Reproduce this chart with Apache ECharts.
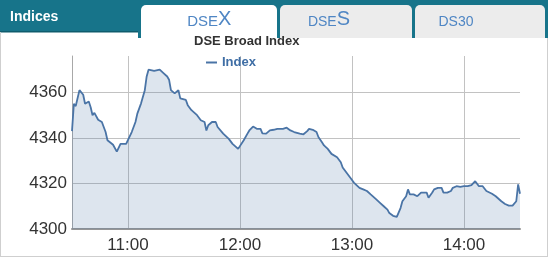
<!DOCTYPE html>
<html><head><meta charset="utf-8">
<script src="https://cdn.jsdelivr.net/npm/echarts@6/dist/echarts.min.js"></script>
<style>html,body{margin:0;padding:0;background:#fff;}#c{width:551px;height:258px;}</style>
</head><body><div id="c"></div>
<script>
// ---- data ----
const times = ["10:30","10:31","10:32","10:34","10:36","10:37","10:39","10:40","10:41","10:42","10:44","10:46","10:48","10:49","10:52","10:54","10:55","10:56","10:59",
"11:00","11:02","11:04","11:05","11:07","11:09","11:10","11:11","11:14","11:15","11:17","11:18","11:19","11:21","11:22","11:23","11:25","11:27","11:28","11:31","11:32","11:34","11:37","11:39","11:41","11:42","11:43","11:45","11:47","11:48","11:51","11:54","11:56","11:59",
"12:00","12:02","12:04","12:05","12:07","12:09","12:11","12:12","12:14","12:16","12:18","12:20","12:21","12:23","12:25","12:27","12:29","12:30","12:32","12:34","12:36","12:37","12:39","12:41","12:42","12:44","12:45","12:47","12:49","12:52","12:54","12:55","12:57","12:59",
"13:01","13:02","13:04","13:06","13:08","13:10","13:11","13:13","13:15","13:17","13:19","13:20","13:22","13:24","13:25","13:26","13:27","13:29","13:30","13:31","13:33","13:35","13:37","13:40","13:41","13:43","13:44","13:46","13:48","13:49","13:51","13:53","13:54","13:56","13:58",
"14:00","14:02","14:04","14:06","14:07","14:08","14:10","14:12","14:15","14:17","14:18","14:20","14:22","14:24","14:26","14:27","14:28","14:29","14:30"];
const values = [4343,4355,4354,4361,4359,4355,4356,4353.5,4350,4351,4348,4347,4342.6,4339,4337,4334,4334.5,4337.4,4337.4,
4336.7,4342.6,4347,4350.7,4355.2,4361,4367,4370,4369.5,4369,4370,4369.7,4368.5,4367,4365.6,4361,4359.6,4361,4357.4,4356.7,4354.4,4352.2,4350,4347.8,4347,4343.3,4345.6,4347,4347,4344.8,4341.9,4339.6,4337.4,4335.2,
4335.5,4339,4341.9,4343.3,4345,4344,4344,4342,4341.9,4343.3,4343.6,4344,4343.3,4344,4344.5,4343.3,4342.6,4341.9,4341.9,4341.6,4343,4344,4343.6,4342.6,4340.4,4338,4336.7,4335.2,4333,4331.5,4329.3,4327,4324.8,4322.6,
4320.4,4319.6,4318.1,4317.4,4316.7,4315.2,4314.4,4313,4311.5,4310,4308.5,4307,4305.8,4305.3,4305.6,4309.2,4312.2,4314.4,4317.4,4315.2,4315.2,4314.4,4316,4316,4313.7,4316,4317.4,4318.1,4318.1,4316,4316,4316.7,4318.1,4318.8,4318.5,
4318.8,4318.8,4319.3,4321,4320.3,4318.8,4318.8,4316.7,4315.5,4314.4,4313.7,4312.2,4311,4310.3,4310.3,4310.7,4312.2,4319.6,4315.5];
const xStart = "10:30", xEnd = "14:30";
const xTickLabels = ["11:00","12:00","13:00","14:00"];
const yTickLabels = [4300,4320,4340,4360];
const yMin = 4300, yMax = 4376;
const seriesName = "Index";
const chartTitle = "DSE Broad Index";
const headerLabel = "Indices";

function toMin(s){const p=s.split(':');return +p[0]*60 + +p[1];}
function fmt(v){const h=Math.floor(v/60),m=Math.round(v%60);return h+':'+(m<10?'0':'')+m;}

const TEAL='#17748a', TABTXT='#4f86c4', FONT='Arial, "Liberation Sans", sans-serif';
const chart = echarts.init(document.getElementById('c'), null, {renderer:'canvas'});
const xTicks = xTickLabels.map(toMin);

chart.setOption({
  animation:false,
  backgroundColor:'#fff',
  title:{text:chartTitle,left:194,top:35,padding:0,textStyle:{fontFamily:FONT,fontSize:13,fontWeight:'bold',color:'#333'}},
  legend:{left:206,top:56,padding:0,icon:'rect',itemWidth:11,itemHeight:2,itemGap:5,
    textStyle:{fontFamily:FONT,fontSize:13,fontWeight:'bold',color:'#3f6ea5'},data:[seriesName]},
  grid:{left:72,right:31,top:56,bottom:29,containLabel:false},
  xAxis:{type:'value',min:toMin(xStart),max:toMin(xEnd),
    axisLine:{show:true,lineStyle:{color:'#969696',width:2}},
    axisTick:{show:false,customValues:xTicks},
    axisLabel:{customValues:xTicks,formatter:fmt,margin:8,fontSize:17,fontFamily:FONT,color:'#333'},
    splitLine:{show:true,lineStyle:{color:'#c2c2c2',width:1}}},
  yAxis:{type:'value',min:yMin,max:yMax,
    axisLine:{show:true,lineStyle:{color:'#a8a8a8',width:1}},
    axisTick:{show:false,customValues:yTickLabels},
    axisLabel:{customValues:yTickLabels,formatter:v=>String(v),margin:5,fontSize:17,fontFamily:FONT,color:'#333'},
    splitLine:{show:true,lineStyle:{color:'#c2c2c2',width:1}}},
  series:[{name:seriesName,type:'line',showSymbol:false,symbol:'none',
    data:times.map((t,i)=>[toMin(t),values[i]]),
    lineStyle:{color:'#4a74a6',width:1.8},itemStyle:{color:'#4a74a6'},
    areaStyle:{color:'#4a74a6',opacity:0.19,origin:'start'}}],
  graphic:[
    {type:'rect',shape:{x:0,y:0,width:548,height:32},style:{fill:TEAL},silent:true},
    {type:'rect',shape:{x:0,y:31,width:140,height:1.5},style:{fill:'#0f5c6d'},silent:true},
    {type:'rect',shape:{x:138,y:0,width:410,height:38},style:{fill:TEAL},silent:true},
    {type:'rect',shape:{x:141,y:5,width:136,height:40,r:[5,5,0,0]},style:{fill:'#fff'},silent:true},
    {type:'rect',shape:{x:280,y:5,width:132,height:33,r:[5,5,0,0]},style:{fill:'#ececec'},silent:true},
    {type:'rect',shape:{x:415,y:5,width:130,height:33,r:[5,5,0,0]},style:{fill:'#ececec'},silent:true},
    {type:'line',shape:{x1:0.5,y1:32,x2:0.5,y2:256.5},style:{stroke:'#cfcfcf',lineWidth:1},silent:true},
    {type:'line',shape:{x1:0,y1:256.5,x2:548,y2:256.5},style:{stroke:'#cfcfcf',lineWidth:1},silent:true},
    {type:'line',shape:{x1:547.5,y1:38,x2:547.5,y2:256.5},style:{stroke:'#cfcfcf',lineWidth:1},silent:true},
    {type:'text',style:{x:10,y:16.8,text:headerLabel,font:'bold 14px '+FONT,fill:'#fff',align:'left',verticalAlign:'middle'},silent:true},
    {type:'text',style:{x:218,y:21.5,text:'DSE',font:'15px '+FONT,fill:TABTXT,align:'right',verticalAlign:'middle'},silent:true},
    {type:'text',style:{x:218,y:19.7,text:'X',font:'20px '+FONT,fill:TABTXT,align:'left',verticalAlign:'middle'},silent:true},
    {type:'text',style:{x:336.7,y:21.8,text:'DSE',font:'14px '+FONT,fill:TABTXT,align:'right',verticalAlign:'middle'},silent:true},
    {type:'text',style:{x:336.7,y:19.7,text:'S',font:'20px '+FONT,fill:TABTXT,align:'left',verticalAlign:'middle'},silent:true},
    {type:'text',style:{x:456,y:21.8,text:'DS30',font:'14px '+FONT,fill:TABTXT,align:'center',verticalAlign:'middle'},silent:true}
  ]
});
</script></body></html>
